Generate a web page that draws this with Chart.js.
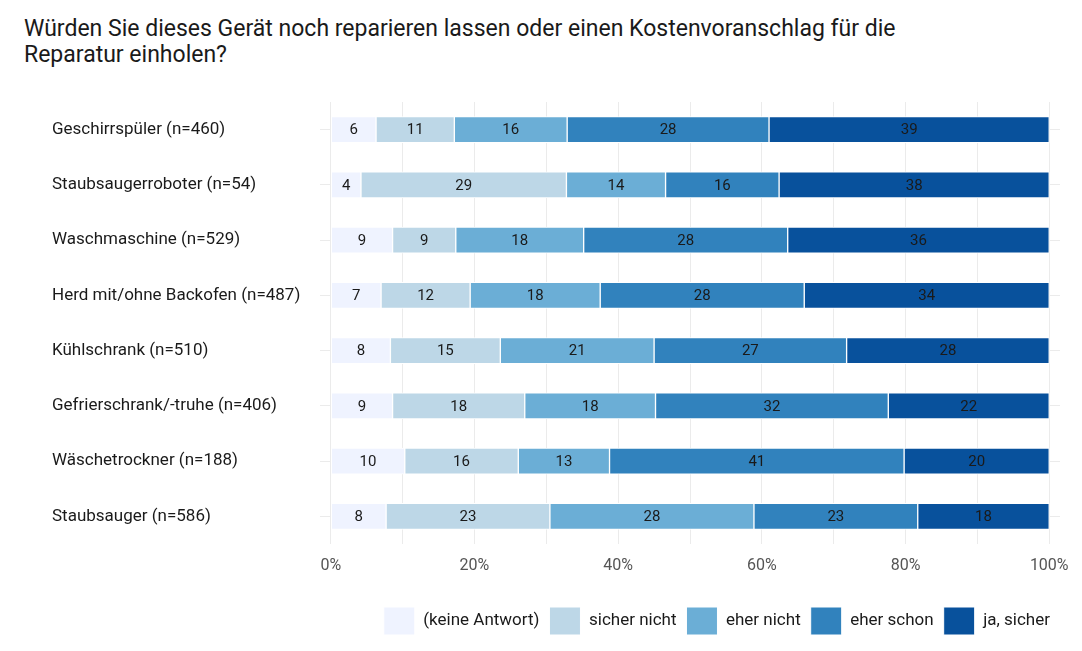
<!DOCTYPE html>
<html>
<head>
<meta charset="utf-8">
<script src="https://cdn.jsdelivr.net/npm/chart.js@4.4.1/dist/chart.umd.min.js"></script>
<style>
  html, body { margin: 0; padding: 0; background: #fff; }
  #wrap { position: relative; width: 1082px; height: 651px; }
  #title {
    position: absolute; left: 24px; top: 16px;
    font-family: Roboto, sans-serif; font-size: 23px; line-height: 26px; color: #1a1a1a;
  }
  canvas { position: absolute; left: 0; top: 0; }
</style>
</head>
<body>
<div id="wrap">
  <div id="title">Würden Sie dieses Gerät noch reparieren lassen oder einen Kostenvoranschlag für die<br>Reparatur einholen?</div>
  <canvas id="chart" width="1082" height="651"></canvas>
</div>
<script>
// Geräte (von oben nach unten)
const categories = [
  "Geschirrspüler (n=460)",
  "Staubsaugerroboter (n=54)",
  "Waschmaschine (n=529)",
  "Herd mit/ohne Backofen (n=487)",
  "Kühlschrank (n=510)",
  "Gefrierschrank/-truhe (n=406)",
  "Wäschetrockner (n=188)",
  "Staubsauger (n=586)"
];

const seriesNames = ["(keine Antwort)", "sicher nicht", "eher nicht", "eher schon", "ja, sicher"];

// Anteile in %
const keineAntwort = [6.3, 4.2, 8.6, 7.0, 8.3, 8.6, 10.3, 7.7];
const sicherNicht  = [10.9, 28.6, 8.8, 12.4, 15.3, 18.4, 15.8, 22.8];
const eherNicht    = [15.7, 13.8, 17.8, 18.1, 21.4, 18.2, 12.7, 28.4];
const eherSchon    = [28.1, 15.8, 28.4, 28.4, 26.8, 32.4, 41.0, 22.8];
const jaSicher     = [39.0, 37.6, 36.4, 34.1, 28.2, 22.4, 20.2, 18.3];

const xTicks = [0, 10, 20, 30, 40, 50, 60, 70, 80, 90, 100];

const colors = ["#eff3ff", "#bdd7e7", "#6baed6", "#3182bd", "#08519c"];

const seriesData = [keineAntwort, sicherNicht, eherNicht, eherSchon, jaSicher];

const datasets = seriesData.map((d, i) => ({
  label: seriesNames[i],
  data: d,
  backgroundColor: colors[i],
  borderColor: "#ffffff",
  borderWidth: 1,
  borderSkipped: false,
  barThickness: 26
}));

// Zahlen in die Balken schreiben
const barLabels = {
  id: "barLabels",
  afterDatasetsDraw(chart) {
    const ctx = chart.ctx;
    ctx.save();
    ctx.font = "15px Roboto, sans-serif";
    ctx.fillStyle = "#1a1a1a";
    ctx.textAlign = "center";
    ctx.textBaseline = "middle";
    chart.data.datasets.forEach((ds, i) => {
      chart.getDatasetMeta(i).data.forEach((bar, j) => {
        const p = bar.getProps(["x", "y", "base"], true);
        ctx.fillText(Math.round(ds.data[j]), (p.x + p.base) / 2, p.y + 1);
      });
    });
    ctx.restore();
  }
};

new Chart(document.getElementById("chart"), {
  type: "bar",
  data: { labels: categories, datasets },
  options: {
    indexAxis: "y",
    responsive: false,
    animation: false,
    layout: { padding: { left: 52, right: 22, top: 102, bottom: 6 } },
    scales: {
      x: {
        stacked: true,
        min: -1.5,
        max: 101.5,
        border: { display: false },
        grid: { color: "#ebebeb", lineWidth: 1, drawTicks: false },
        afterBuildTicks: (scale) => { scale.ticks = xTicks.map(v => ({ value: v })); },
        afterFit: (scale) => { scale.height = 53; },
        ticks: {
          padding: 12,
          color: "#555555",
          font: { family: "Roboto", size: 16 },
          callback: (v) => (v % 20 === 0 ? v + "%" : "")
        }
      },
      y: {
        stacked: true,
        border: { display: false },
        grid: { color: "#ebebeb", lineWidth: 1, offset: false, drawTicks: false },
        afterFit: (scale) => { scale.width = 268; },
        ticks: {
          crossAlign: "far",
          color: "#1a1a1a",
          font: { family: "Roboto", size: 17 }
        }
      }
    },
    plugins: {
      legend: {
        position: "bottom",
        align: "end",
        labels: {
          boxWidth: 31,
          boxHeight: 28,
          padding: 10,
          color: "#1a1a1a",
          font: { family: "Roboto", size: 17 }
        }
      },
      tooltip: { enabled: false },
      title: { display: false }
    }
  },
  plugins: [barLabels]
});
</script>
</body>
</html>
